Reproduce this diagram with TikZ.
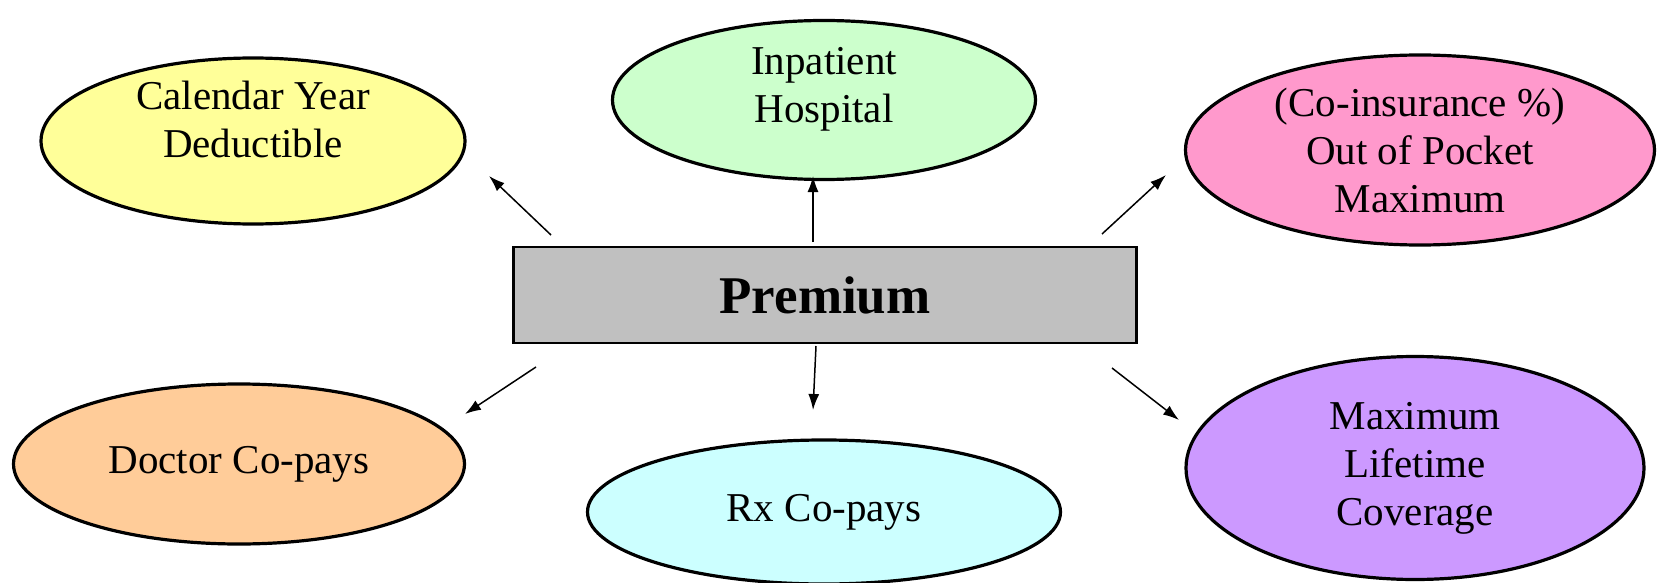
\documentclass[tikz,border=0pt]{standalone}
\usepackage{fontspec}
\setmainfont{Liberation Serif}
\usetikzlibrary{shapes.geometric,arrows.meta}
\definecolor{dedyellow}{HTML}{FFFF99}
\definecolor{hospgreen}{HTML}{CCFFCC}
\definecolor{pocketpink}{HTML}{FF99CC}
\definecolor{doctororange}{HTML}{FFCC99}
\definecolor{rxcyan}{HTML}{CCFFFF}
\definecolor{lifepurple}{HTML}{CC99FF}
\definecolor{premgray}{HTML}{C0C0C0}
\begin{document}
\begin{tikzpicture}[x=1pt,y=-1pt,
  bubble/.style={draw, ellipse, line width=3.2pt, inner sep=0pt, align=center,
    font=\fontsize{41}{48}\selectfont},
  txt/.style={align=center, inner sep=0pt, font=\fontsize{41}{48}\selectfont},
  arr/.style={-{Latex[length=16pt,width=11pt]}, line width=1.5pt}]
  \useasboundingbox (0,0) rectangle (1657,583);
  \node[draw, line width=2.2pt, fill=premgray, minimum width=623pt, minimum height=96pt,
    font=\fontsize{53}{60}\selectfont\bfseries] (prem) at (825,295) {Premium};
  \node[bubble, fill=dedyellow, minimum width=424pt, minimum height=166pt,
    label={[txt, yshift=22pt]center:{Calendar Year\\Deductible}}] (cal) at (253,141) {};
  \node[bubble, fill=hospgreen, minimum width=423pt, minimum height=159pt,
    label={[txt, yshift=11pt]center:{Inpatient\\Hospital}}] (inp) at (824,100) {};
  \node[bubble, fill=pocketpink, minimum width=469pt, minimum height=190pt] (pocket) at (1420,150)
    {(Co-insurance \%)\\Out of Pocket\\Maximum};
  \node[bubble, fill=doctororange, minimum width=451pt, minimum height=160pt] (doc) at (239,464)
    {Doctor Co-pays};
  \node[bubble, fill=rxcyan, minimum width=473pt, minimum height=144pt] (rx) at (824,512)
    {Rx Co-pays};
  \node[bubble, fill=lifepurple, minimum width=458pt, minimum height=223pt] (life) at (1415,468)
    {Maximum\\Lifetime\\Coverage};
  % arrow ends
  \coordinate (calt) at (551,235);
  \coordinate (calh) at (489,176);
  \coordinate (inpt) at (813,242);
  \coordinate (inph) at (813,176);
  \coordinate (pockt) at (1102,234);
  \coordinate (pockh) at (1166,175);
  \coordinate (doct) at (536,367);
  \coordinate (doch) at (465,414);
  \coordinate (rxt) at (816,346);
  \coordinate (rxh) at (813,410);
  \coordinate (lifet) at (1112,368);
  \coordinate (lifeh) at (1179,420);
  \draw[arr] (calt) -- (calh);
  \draw[arr] (inpt) -- (inph);
  \draw[arr] (pockt) -- (pockh);
  \draw[arr] (doct) -- (doch);
  \draw[arr] (rxt) -- (rxh);
  \draw[arr] (lifet) -- (lifeh);
\end{tikzpicture}
\end{document}
